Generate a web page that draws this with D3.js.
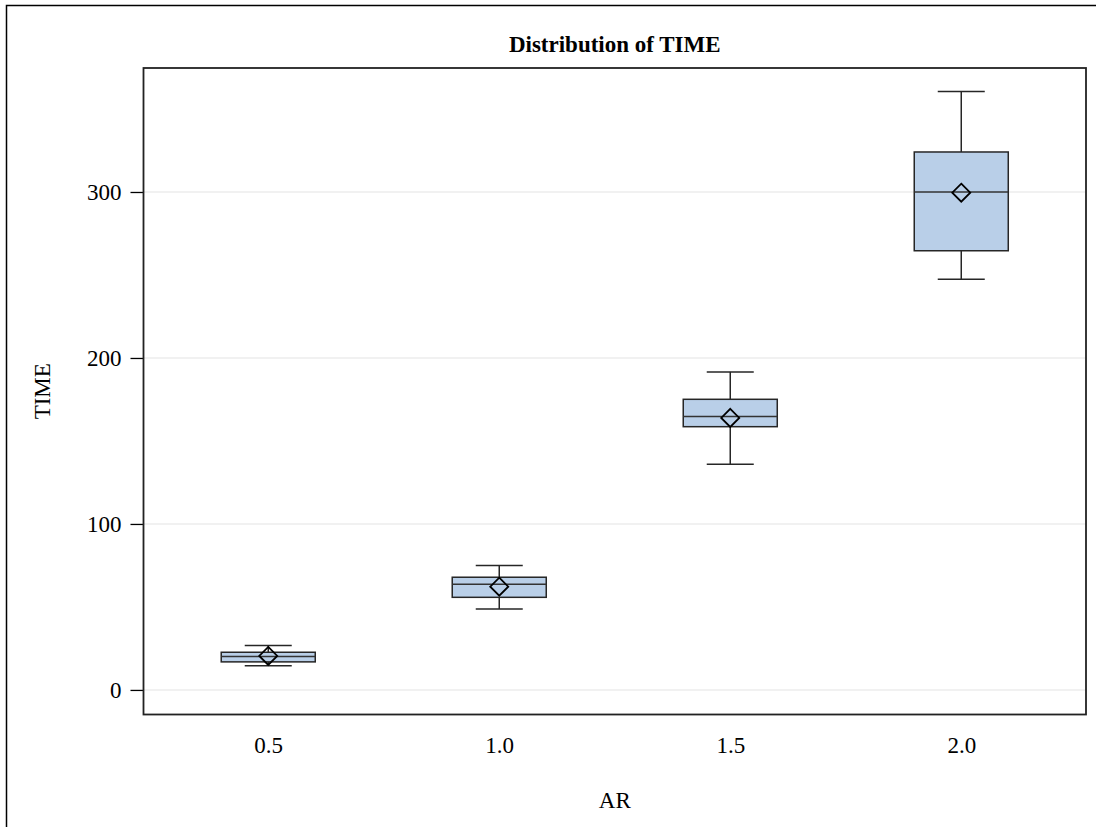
<!DOCTYPE html>
<html>
<head>
<meta charset="utf-8">
<script src="https://cdn.jsdelivr.net/npm/d3@7"></script>
<style>
  html, body { margin: 0; padding: 0; background: #fff; }
  svg { display: block; }
  text { font-family: "Liberation Serif", "DejaVu Serif", serif; fill: #000; }
</style>
</head>
<body>
<svg id="chart" width="1096" height="827"></svg>
<script>
// Data
const categories = ["0.5", "1.0", "1.5", "2.0"];
const whiskerLow  = [14.6, 48.8, 136.0, 247.4];
const q1Values    = [16.9, 55.8, 158.6, 264.6];
const medians     = [20.1, 63.7, 164.7, 300.0];
const q3Values    = [22.7, 67.9, 175.1, 324.1];
const whiskerHigh = [26.7, 74.9, 191.6, 360.6];
const means       = [20.5, 62.2, 163.9, 299.6];
const yTicks      = [0, 100, 200, 300];

const title = "Distribution of TIME";
const xLabel = "AR";
const yLabel = "TIME";

const svg = d3.select("#chart");
const W = 1096, H = 827;
const frame = { left: 143.5, right: 1086, top: 68, bottom: 714.5 };
const fs = 23;

// outer border (left and top visible)
svg.append("path")
  .attr("d", `M6.5,${H + 2} V5.5 H${W + 2}`)
  .attr("fill", "none").attr("stroke", "#000").attr("stroke-width", 1.5);

const x = d3.scalePoint().domain(categories)
  .range([frame.left, frame.right]).padding(0.54);
const y = d3.scaleLinear().domain([-14.8, 374.7])
  .range([frame.bottom, frame.top]);

const boxW = x.step() * 0.407;
const capW = boxW / 2;

// grid lines
svg.append("g").selectAll("line").data(yTicks).join("line")
  .attr("x1", frame.left).attr("x2", frame.right)
  .attr("y1", d => y(d)).attr("y2", d => y(d))
  .attr("stroke", "#ececec").attr("stroke-width", 1.5);

// y axis
const yAxis = d3.axisLeft(y).tickValues(yTicks).tickSize(13).tickPadding(9).tickFormat(d3.format("d"));
const gy = svg.append("g").attr("transform", `translate(${frame.left},0)`).call(yAxis);
gy.select(".domain").remove();
gy.selectAll(".tick line").attr("stroke", "#000").attr("stroke-width", 1.3);
gy.selectAll(".tick text").attr("font-size", fs).attr("font-family", "Liberation Serif");

// x axis
const xAxis = d3.axisBottom(x).tickSize(0).tickPadding(22);
const gx = svg.append("g").attr("transform", `translate(0,${frame.bottom})`).call(xAxis);
gx.select(".domain").remove();
gx.selectAll(".tick text").attr("font-size", fs).attr("font-family", "Liberation Serif");

const data = categories.map((c, i) => ({
  c, lo: whiskerLow[i], q1: q1Values[i], med: medians[i], q3: q3Values[i], hi: whiskerHigh[i], mean: means[i]
}));

const stroke = "#262626";
const g = svg.append("g").selectAll("g").data(data).join("g")
  .attr("transform", d => `translate(${x(d.c)},0)`);

// whiskers
g.append("line").attr("x1", 0).attr("x2", 0)
  .attr("y1", d => y(d.hi)).attr("y2", d => y(d.q3))
  .attr("stroke", stroke).attr("stroke-width", 1.5);
g.append("line").attr("x1", 0).attr("x2", 0)
  .attr("y1", d => y(d.q1)).attr("y2", d => y(d.lo))
  .attr("stroke", stroke).attr("stroke-width", 1.5);
g.append("line").attr("x1", -capW / 2).attr("x2", capW / 2)
  .attr("y1", d => y(d.hi)).attr("y2", d => y(d.hi))
  .attr("stroke", stroke).attr("stroke-width", 1.5);
g.append("line").attr("x1", -capW / 2).attr("x2", capW / 2)
  .attr("y1", d => y(d.lo)).attr("y2", d => y(d.lo))
  .attr("stroke", stroke).attr("stroke-width", 1.5);

// box
g.append("rect")
  .attr("x", -boxW / 2).attr("width", boxW)
  .attr("y", d => y(d.q3)).attr("height", d => y(d.q1) - y(d.q3))
  .attr("fill", "#b9cfe8").attr("stroke", stroke).attr("stroke-width", 1.5);

// median
g.append("line").attr("x1", -boxW / 2).attr("x2", boxW / 2)
  .attr("y1", d => y(d.med)).attr("y2", d => y(d.med))
  .attr("stroke", "#333").attr("stroke-width", 1.5);

// mean diamond
const dm = 9;
g.append("path")
  .attr("d", d => {
    const cy = y(d.mean);
    return `M0,${cy - dm} L${dm},${cy} L0,${cy + dm} L${-dm},${cy} Z`;
  })
  .attr("fill", "none").attr("stroke", "#000").attr("stroke-width", 1.8);

// plot frame
svg.append("rect")
  .attr("x", frame.left).attr("y", frame.top)
  .attr("width", frame.right - frame.left).attr("height", frame.bottom - frame.top)
  .attr("fill", "none").attr("stroke", "#222").attr("stroke-width", 1.8);

// title
svg.append("text")
  .attr("x", (frame.left + frame.right) / 2).attr("y", 52)
  .attr("text-anchor", "middle").attr("font-size", fs).attr("font-weight", "bold")
  .text(title);

// axis labels
svg.append("text")
  .attr("x", (frame.left + frame.right) / 2).attr("y", 808)
  .attr("text-anchor", "middle").attr("font-size", fs)
  .text(xLabel);
svg.append("text")
  .attr("transform", `translate(50,${(frame.top + frame.bottom) / 2}) rotate(-90)`)
  .attr("text-anchor", "middle").attr("font-size", fs)
  .text(yLabel);
</script>
</body>
</html>
